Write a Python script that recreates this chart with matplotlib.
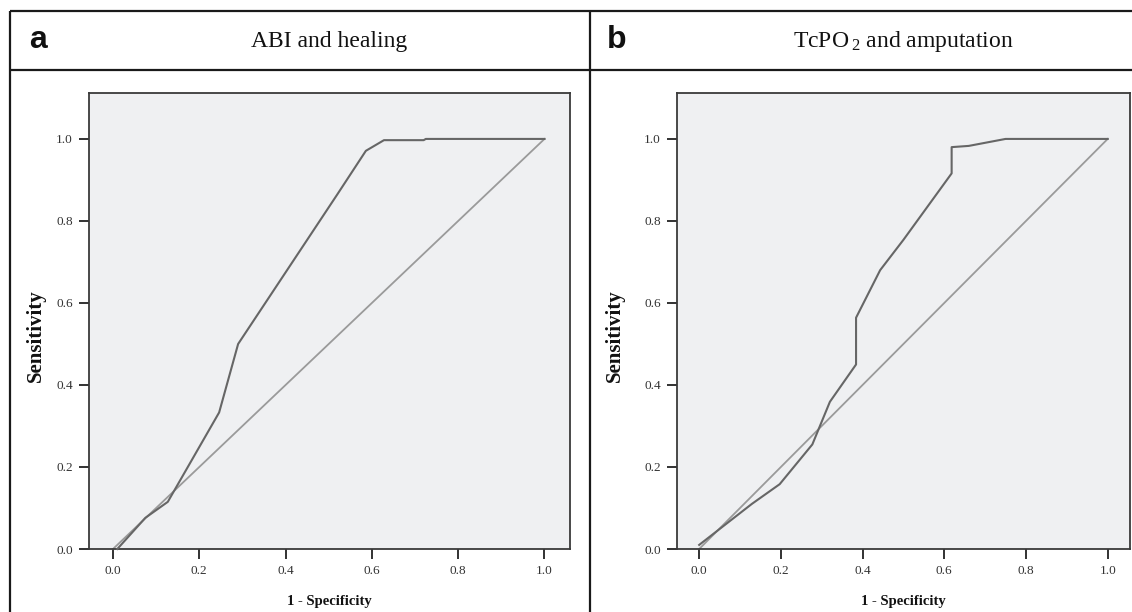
import matplotlib
matplotlib.use("Agg")
import matplotlib.pyplot as plt
from matplotlib.lines import Line2D

plt.rcParams['font.family'] = ['Liberation Serif', 'DejaVu Serif']
plt.rcParams['mathtext.fontset'] = 'custom'
plt.rcParams['mathtext.rm'] = 'Liberation Serif'
plt.rcParams['mathtext.it'] = 'Liberation Serif:italic'

# ---- data ----
abi_fpr = [0.01, 0.075, 0.127, 0.246, 0.29, 0.52, 0.586, 0.628, 0.72, 0.725, 1.0]
abi_tpr = [0.0, 0.076, 0.115, 0.333, 0.50, 0.865, 0.971, 0.997, 0.997, 1.0, 1.0]

tcpo_fpr = [0.0, 0.129, 0.197, 0.277, 0.32, 0.384, 0.384, 0.443, 0.50, 0.618, 0.618, 0.66, 0.75, 1.0]
tcpo_tpr = [0.01, 0.11, 0.158, 0.255, 0.359, 0.45, 0.564, 0.68, 0.754, 0.916, 0.98, 0.983, 1.0, 1.0]

ref_x = [0.0, 1.0]
ref_y = [0.0, 1.0]

ticks = [0.0, 0.2, 0.4, 0.6, 0.8, 1.0]
tick_labels = ["0.0", "0.2", "0.4", "0.6", "0.8", "1.0"]

panel_letters = ["a", "b"]
panel_titles = ["ABI and healing", r"TcPO$\,_{\mathrm{2}}$ and amputation"]
xlabel = "1 - Specificity"
ylabel = "Sensitivity"

W, H = 1132, 612
fig = plt.figure(figsize=(W / 100, H / 100), dpi=100)
fig.patch.set_facecolor("white")


def fx(px):
    return px / W


def fy(py):
    return 1 - py / H


# panel frames
lw_frame = 1.6
for (x0, y0, x1, y1) in [(10, 11, W + 5, 11), (10, 11, 10, H + 5), (10, 70, W + 5, 70), (590, 11, 590, H + 5)]:
    fig.add_artist(Line2D([fx(x0), fx(x1)], [fy(y0), fy(y1)], transform=fig.transFigure,
                          color="#1a1a1a", lw=lw_frame, solid_capstyle="butt"))

axes_px = [(89, 93, 570, 549), (677, 93, 1130, 549)]
xlims = [(-0.0556, 1.0591), (-0.0543, 1.0546)]
ylbl_x = [36, 615]
series = [(abi_fpr, abi_tpr), (tcpo_fpr, tcpo_tpr)]
letter_x = [29, 607]

for i in range(2):
    l, t, r, b = axes_px[i]
    ax = fig.add_axes([fx(l), fy(b), (r - l) / W, (b - t) / H])
    ax.set_facecolor("#eff0f2")
    ax.set_xlim(*xlims[i])
    ax.set_ylim(0, 1.112)
    ax.plot(ref_x, ref_y, color="#9a9a9a", lw=1.3, clip_on=False, zorder=2)
    ax.plot(series[i][0], series[i][1], color="#666666", lw=1.5, clip_on=False, zorder=3)
    ax.set_xticks(ticks)
    ax.set_xticklabels(tick_labels)
    ax.set_yticks(ticks)
    ax.set_yticklabels(tick_labels)
    ax.tick_params(direction="out", length=7.5, width=1.3, color="#222222",
                   labelsize=9.5, labelcolor="#333333", pad=4)
    for s in ax.spines.values():
        s.set_color("#3a3a3a")
        s.set_linewidth(1.3)
    ax.set_xlabel(xlabel, fontsize=10.5, fontweight="bold", color="#111111")
    ax.set_ylabel(ylabel, fontsize=15, fontweight="bold", color="#111111")
    ax.xaxis.label.set_verticalalignment("center")
    ax.yaxis.label.set_verticalalignment("center")
    ax.xaxis.set_label_coords(0.5, (b - 601) / (b - t))
    ax.yaxis.set_label_coords((ylbl_x[i] - l) / (r - l), (b - 336) / (b - t))
    # header
    fig.text(fx(letter_x[i]), fy(40), panel_letters[i], fontsize=23, fontweight="bold",
             family=["Liberation Sans", "DejaVu Sans"], ha="left", va="center", color="#111111")
    fig.text(fx((l + r) / 2), fy(41), panel_titles[i], fontsize=17, ha="center", va="center",
             color="#111111")

fig.savefig("out.png", dpi=100, facecolor="white")
